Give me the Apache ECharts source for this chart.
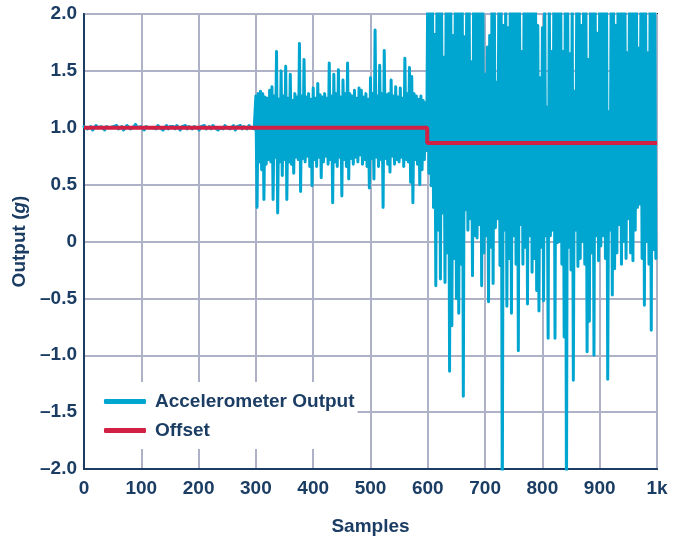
<!DOCTYPE html>
<html>
<head>
<meta charset="utf-8">
<script src="https://cdn.jsdelivr.net/npm/echarts@6/dist/echarts.min.js"></script>
<style>
html,body{margin:0;padding:0;background:#fff;}
#chart{width:684px;height:541px;}
</style>
</head>
<body>
<div id="chart"></div>
<script>
// ---- Data ----
// Quiet part: samples 0..297, one value every 3 samples
var quietStart = 0, quietStep = 3;
var quietOutput = [
1.01,1.02,0.99,1.00,1.01,0.98,1.00,1.02,1.00,0.99,
1.01,1.00,0.98,1.01,1.02,1.00,0.99,1.01,1.00,1.02,
0.99,1.00,1.01,0.98,1.00,1.02,1.01,0.99,1.00,1.01,
1.03,1.00,0.99,1.01,1.00,0.98,1.01,1.02,1.00,0.99,
1.00,1.01,0.99,1.02,1.00,1.01,0.98,1.00,1.02,0.99,
1.01,1.00,1.01,0.99,1.02,1.00,0.98,1.01,1.00,1.02,
0.99,1.01,1.00,0.99,1.01,1.02,1.00,0.98,1.01,1.00,
1.02,0.99,1.00,1.01,0.99,1.02,1.00,1.01,0.98,1.00,
1.01,0.99,1.02,1.00,1.01,0.99,1.00,1.02,0.98,1.01,
1.00,1.02,0.99,1.01,1.00,0.99,1.02,1.00,1.01,0.99
];
// Moderate vibration: samples 300..598; peaks at 300+4k, troughs at 302+4k
var moderateStart = 300;
var moderateHigh = [
1.28,1.30,1.32,1.30,1.27,1.26,1.33,1.36,1.28,1.67,
1.25,1.50,1.28,1.54,1.26,1.47,1.24,1.30,1.27,1.74,
1.28,1.60,1.27,1.30,1.25,1.35,1.26,1.39,1.29,1.27,
1.30,1.26,1.57,1.28,1.47,1.30,1.51,1.27,1.42,1.30,
1.57,1.30,1.28,1.33,1.26,1.35,1.33,1.27,1.30,1.25,
1.44,1.30,1.86,1.28,1.55,1.30,1.68,1.29,1.30,1.42,
1.28,1.36,1.27,1.35,1.26,1.61,1.30,1.53,1.45,1.30,
1.28,1.25,1.28,1.24,1.22
];
var moderateLow = [
0.30,0.70,0.63,0.37,0.68,0.72,0.70,0.37,0.74,0.25,
0.70,0.58,0.72,0.37,0.70,0.68,0.60,0.74,0.72,0.44,
0.73,0.70,0.75,0.66,0.49,0.72,0.66,0.74,0.56,0.70,
0.75,0.68,0.72,0.34,0.70,0.66,0.74,0.40,0.72,0.66,
0.55,0.73,0.68,0.74,0.70,0.76,0.68,0.72,0.66,0.47,
0.73,0.55,0.74,0.66,0.72,0.30,0.73,0.68,0.61,0.75,
0.68,0.72,0.70,0.74,0.66,0.72,0.70,0.52,0.34,0.72,
0.68,0.50,0.63,0.72,0.80
];
// Heavy vibration: samples 600..998; peaks at 600+4k, troughs at 602+4k
var heavyStart = 600;
var heavyHigh = [
2.30,2.20,2.30,1.82,2.20,2.40,2.10,1.62,2.20,2.20,
2.30,1.81,2.20,2.30,2.10,2.40,1.80,2.20,2.30,1.58,
2.20,2.20,2.30,2.10,2.20,1.47,1.71,1.81,2.20,2.30,
1.40,2.20,2.10,1.90,2.20,1.88,2.30,2.20,2.40,2.20,
2.10,1.67,2.20,2.30,2.20,2.10,2.30,2.20,1.90,1.44,
1.88,2.20,1.18,2.20,1.67,2.20,2.30,2.10,2.20,1.67,
2.30,2.20,1.65,2.10,1.32,2.20,2.30,1.90,2.20,2.10,
1.60,2.20,2.30,2.20,1.83,2.20,2.20,2.30,2.10,1.14,
2.20,2.30,1.90,2.20,2.10,2.30,2.20,1.66,2.20,2.10,
2.30,2.20,1.70,2.20,2.30,2.10,1.66,2.20,2.30,2.10
];
var heavyLow = [
0.60,0.49,0.30,-0.39,0.10,-0.33,0.25,-0.36,-0.10,-1.14,
-0.74,-0.15,-0.50,-0.63,-0.20,-1.36,0.28,0.10,0.20,-0.30,
0.05,0.03,0.15,-0.39,-0.10,0.05,-0.53,-0.05,-0.37,0.12,
0.20,-0.21,-2.40,0.10,-0.57,-0.15,-0.63,0.05,-0.20,-0.96,
0.15,-0.20,-0.05,-0.55,0.05,-0.27,-0.15,-0.43,-0.61,-0.05,
-0.52,0.05,-0.85,0.05,0.10,-0.85,-0.01,0.00,-0.20,-0.84,
-2.40,-0.05,-0.25,-1.22,0.10,-0.22,-0.15,0.00,-0.20,-0.97,
-0.70,-0.10,-1.00,0.05,-0.17,-0.04,0.05,-0.15,-1.21,0.10,
-0.47,-0.24,-0.10,0.15,-0.20,0.00,-0.15,0.20,-0.10,-0.17,
0.10,0.30,0.33,-0.15,-0.56,0.00,-0.20,-0.78,-0.07,-0.15
];
// Offset (step at sample ~599)
var offsetSamples = [0, 599, 599, 1000];
var offsetValues = [1.0, 1.0, 0.865, 0.865];
// Axis ticks
var xTicks = [0,100,200,300,400,500,600,700,800,900,1000];
var xTickLabels = ['0','100','200','300','400','500','600','700','800','900','1k'];
var yTickLabels = {'2':'2.0','1.5':'1.5','1':'1.0','0.5':'0.5','0':'0','-0.5':'\u20130.5','-1':'\u20131.0','-1.5':'\u20131.5','-2':'\u20132.0'};

// ---- Build series data ----
var accel = [];
quietOutput.forEach(function(v,i){ accel.push([quietStart + i*quietStep, v]); });
moderateHigh.forEach(function(v,k){
  accel.push([moderateStart + 4*k, v]);
  accel.push([moderateStart + 4*k + 2, moderateLow[k]]);
});
heavyHigh.forEach(function(v,k){
  accel.push([heavyStart + 4*k, v]);
  accel.push([heavyStart + 4*k + 2, heavyLow[k]]);
});
var offset = offsetSamples.map(function(s,i){ return [s, offsetValues[i]]; });

var navy = '#1b3d64';
var gridCol = '#afb2c6';
var font = 'Liberation Sans, Arial, sans-serif';
var fs = 19;

var chart = echarts.init(document.getElementById('chart'), null, {renderer:'canvas'});
chart.setOption({
  animation: false,
  backgroundColor: '#fff',
  grid: {left: 84, right: 27, top: 14, bottom: 70, show: true, borderColor: navy, borderWidth: 2, backgroundColor: 'transparent'},
  legend: {
    orient: 'vertical', left: 85, top: 382,
    backgroundColor: '#fff',
    padding: [10, 3, 9, 19],
    itemGap: 10, itemWidth: 42, itemHeight: 5,
    icon: 'roundRect',
    textStyle: {color: navy, fontSize: fs, fontWeight: 'bold', fontFamily: font, padding: [0,0,0,4]},
    data: ['Accelerometer Output', 'Offset']
  },
  xAxis: {
    type: 'value', min: 0, max: 1000, interval: 100,
    name: 'Samples', nameLocation: 'middle', nameGap: 48,
    nameTextStyle: {color: navy, fontSize: fs, fontWeight: 'bold', fontFamily: font},
    axisLine: {show: true, onZero: false, lineStyle: {color: navy, width: 2}},
    axisTick: {show: false},
    axisLabel: {color: navy, fontSize: fs, fontWeight: 'bold', fontFamily: font, margin: 10,
      formatter: function(v){ var i = xTicks.indexOf(v); return i >= 0 ? xTickLabels[i] : ''; }},
    splitLine: {show: true, lineStyle: {color: gridCol, width: 2}}
  },
  yAxis: {
    type: 'value', min: -2, max: 2, interval: 0.5,
    name: 'Output ({i|g})', nameLocation: 'middle', nameGap: 52, nameRotate: 90,
    nameTextStyle: {color: navy, fontSize: fs, fontWeight: 'bold', fontFamily: font,
      rich: {i: {fontStyle: 'italic', fontWeight: 'bold', color: navy, fontSize: fs, fontFamily: font}}},
    axisLine: {show: true, onZero: false, lineStyle: {color: navy, width: 2}},
    axisTick: {show: false},
    axisLabel: {color: navy, fontSize: fs, fontWeight: 'bold', fontFamily: font, margin: 7,
      formatter: function(v){ var k = String(Math.round(v*10)/10); return yTickLabels[k] !== undefined ? yTickLabels[k] : ''; }},
    splitLine: {show: true, lineStyle: {color: gridCol, width: 2}}
  },
  series: [
    {name: 'Accelerometer Output', type: 'line', data: accel, showSymbol: false, symbol: 'none', clip: true,
     color: '#00a6d0', lineStyle: {color: '#00a6d0', width: 3, join: 'round', cap: 'round'}, z: 2},
    {name: 'Offset', type: 'line', data: offset, showSymbol: false, symbol: 'none', clip: true,
     color: '#d21f44', lineStyle: {color: '#d21f44', width: 4}, z: 3}
  ]
});
</script>
</body>
</html>
